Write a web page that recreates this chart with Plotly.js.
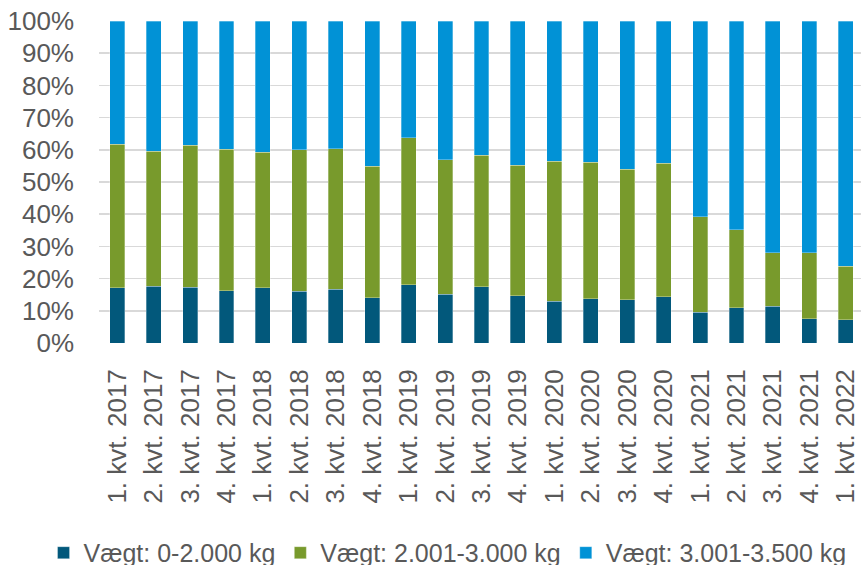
<!DOCTYPE html>
<html>
<head>
<meta charset="utf-8">
<script src="https://cdn.plot.ly/plotly-3.0.1.min.js"></script>
<style>
html, body { margin: 0; padding: 0; overflow: hidden; background: #ffffff; }
#chart { width: 864px; height: 565px; }
</style>
</head>
<body>
<div id="chart"></div>
<script>
var categories = [
  "1. kvt. 2017", "2. kvt. 2017", "3. kvt. 2017", "4. kvt. 2017",
  "1. kvt. 2018", "2. kvt. 2018", "3. kvt. 2018", "4. kvt. 2018",
  "1. kvt. 2019", "2. kvt. 2019", "3. kvt. 2019", "4. kvt. 2019",
  "1. kvt. 2020", "2. kvt. 2020", "3. kvt. 2020", "4. kvt. 2020",
  "1. kvt. 2021", "2. kvt. 2021", "3. kvt. 2021", "4. kvt. 2021",
  "1. kvt. 2022"
];
var seriesNames = ["Vægt: 0-2.000 kg", "Vægt: 2.001-3.000 kg", "Vægt: 3.001-3.500 kg"];
var weight0to2000 = [17.2, 17.6, 17.3, 16.2, 17.2, 16.0, 16.7, 14.1, 18.1, 15.1, 17.4, 14.7, 12.9, 13.7, 13.4, 14.4, 9.6, 10.9, 11.4, 7.6, 7.2];
var weight2001to3000 = [44.6, 42.0, 44.1, 44.0, 42.1, 44.0, 43.7, 40.8, 45.7, 41.8, 40.9, 40.5, 43.6, 42.4, 40.6, 41.4, 29.6, 24.2, 16.7, 20.5, 16.7];
var weight3001to3500 = [38.2, 40.4, 38.6, 39.8, 40.7, 40.0, 39.6, 45.1, 36.2, 43.1, 41.7, 44.8, 43.5, 43.9, 46.0, 44.2, 60.8, 64.9, 71.9, 71.9, 76.1];
var yTickValues = [0, 10, 20, 30, 40, 50, 60, 70, 80, 90, 100];
var yTickLabels = ["0%", "10%", "20%", "30%", "40%", "50%", "60%", "70%", "80%", "90%", "100%"];

var colors = ["#02587B", "#789A2C", "#0192D6"];
var seriesValues = [weight0to2000, weight2001to3000, weight3001to3500];

var traces = seriesValues.map(function (vals, i) {
  return {
    type: "bar",
    x: categories,
    y: vals,
    name: seriesNames[i],
    marker: { color: colors[i], line: { color: "rgba(255,255,255,0.6)", width: 0.5 } },
    hoverinfo: "skip"
  };
});

var font = { family: "Liberation Sans, Arial, sans-serif", size: 26, color: "#595959" };
var legendFont = { family: "Liberation Sans, Arial, sans-serif", size: 25, color: "#595959" };

var layout = {
  width: 864,
  height: 565,
  margin: { l: 99, r: 0, t: 21, b: 222, pad: 0, autoexpand: false },
  paper_bgcolor: "#ffffff",
  plot_bgcolor: "#ffffff",
  barmode: "stack",
  bargap: 0.59,
  font: font,
  showlegend: true,
  legend: {
    orientation: "h",
    xref: "paper",
    yref: "paper",
    x: -0.0725,
    xanchor: "left",
    y: -0.652,
    yanchor: "middle",
    font: legendFont,
    traceorder: "normal",
    bgcolor: "rgba(0,0,0,0)"
  },
  xaxis: {
    type: "category",
    tickangle: -90,
    tickfont: font,
    showgrid: false,
    showline: false,
    ticks: "",
    ticklabelstandoff: 20,
    fixedrange: true
  },
  yaxis: {
    range: [0, 100],
    tickmode: "array",
    tickvals: yTickValues,
    ticktext: yTickLabels,
    tickfont: font,
    showgrid: true,
    gridcolor: "#d9d9d9",
    gridwidth: 1.5,
    zeroline: false,
    showline: false,
    ticks: "",
    ticklabelstandoff: 24,
    fixedrange: true
  }
};

Plotly.newPlot("chart", traces, layout, { displayModeBar: false, staticPlot: true });
</script>
</body>
</html>
